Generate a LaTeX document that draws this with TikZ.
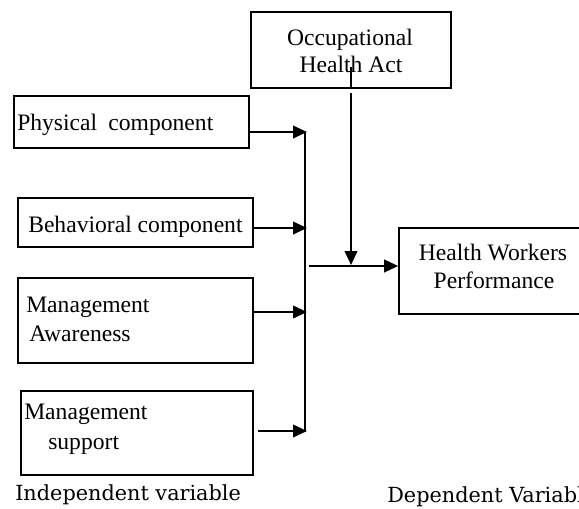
\documentclass[tikz,border=0pt]{standalone}
\usepackage{fontspec}
\setmainfont{Liberation Serif}
\newfontfamily\labfont{DejaVu Serif}
\usetikzlibrary{arrows.meta,fit}
\begin{document}
\begin{tikzpicture}[x=0.75pt,y=-0.75pt,
  box/.style={draw, line width=1.3pt, inner sep=0pt},
  txt/.style={anchor=base west, inner sep=0pt, font=\fontsize{17.7}{21}\selectfont},
  ctxt/.style={anchor=base, inner sep=0pt, font=\fontsize{17.7}{21}\selectfont},
  lab/.style={anchor=base west, inner sep=0pt, font=\labfont\fontsize{15.6}{18}\selectfont},
  conn/.style={line width=1.3pt},
  arr/.style={conn, -{Triangle[length=10.5pt,width=9.5pt]}}]
\useasboundingbox (0,0) rectangle (579,508);
\clip (0,0) rectangle (579,508);
% boxes
\node[box, fit={(251,12) (451,88)}] (occ) {};
\node[box, fit={(14,96) (249,148)}] (phys) {};
\node[box, fit={(18,198) (253,247)}] (beh) {};
\node[box, fit={(18,278) (253,363)}] (ma) {};
\node[box, fit={(21,391) (253,475)}] (ms) {};
\node[box, fit={(399,228) (588,314)}] (hw) {};
% texts
\node[ctxt] (occ1) at (350,45) {Occupational};
\node[ctxt] (occ2) at (351,72) {Health Act};
\node[txt] (phyt) at (17,130) {Physical\hspace{4pt} component};
\node[txt] (beht) at (28,232) {Behavioral component};
\node[txt] (mat1) at (26,312) {Management};
\node[txt] (mat2) at (29,341) {Awareness};
\node[txt] (mst1) at (24,419) {Management};
\node[txt] (mst2) at (48,449) {support};
\node[ctxt] (hwt1) at (493,260) {Health Workers};
\node[ctxt] (hwt2) at (494,288) {Performance};
\node[lab] (indep) at (15,500) {Independent variable};
\node[lab] (dep) at (387,502) {Dependent Variable};
% bus
\coordinate (bt) at (305,132);
\coordinate (bb) at (305,431);
\draw[conn] (bt) -- (bb);
\coordinate (e1) at (307,132);
\coordinate (e2) at (307,228);
\coordinate (e3) at (307,312);
\coordinate (e4) at (307,431);
\coordinate (s4) at (258,431);
\draw[arr] (phys.east |- e1) -- (e1);
\draw[arr] (beh.east |- e2) -- (e2);
\draw[arr] (ma.east |- e3) -- (e3);
\draw[arr] (s4) -- (e4);
% output
\coordinate (o) at (309,266);
\draw[arr] (o) -- (hw.west |- o);
% moderator
\coordinate (oin) at (351,67);
\draw[conn] (oin) -- (oin |- occ.south);
\coordinate (os) at (351,93);
\coordinate (oe) at (351,265);
\draw[arr] (os) -- (oe);
\end{tikzpicture}
\end{document}
